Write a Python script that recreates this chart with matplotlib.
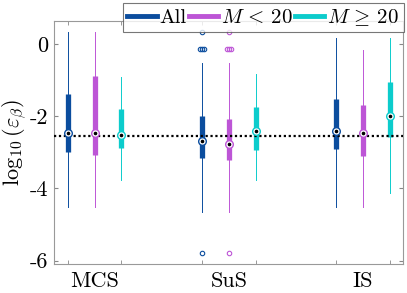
# compact boxplots of log10 error for each method, split by M
import numpy as np
import matplotlib
matplotlib.use("Agg")
import matplotlib.pyplot as plt

plt.rcParams["font.family"] = "cmr10"
plt.rcParams["mathtext.fontset"] = "cm"
plt.rcParams["axes.unicode_minus"] = False

# data
# ---
methods = ["MCS", "SuS", "IS"]
groups = ["All", r"$M\,<\,20$", r"$M\,\geq\,20$"]
colors = ["#0b4d9e", "#bd55d6", "#0ccccc"]

# per method, per group: [whisker low, q1, median, q3, whisker high]
stats_mcs = [[-4.51, -2.99, -2.46, -1.39, 0.33],
             [-4.51, -3.08, -2.46, -0.88, 0.33],
             [-3.77, -2.88, -2.52, -1.81, -0.91]]
stats_sus = [[-4.65, -3.17, -2.69, -1.99, -0.52],
             [-4.65, -3.22, -2.76, -2.08, -0.52],
             [-3.77, -2.94, -2.40, -1.74, -0.84]]
stats_is = [[-4.51, -2.91, -2.40, -1.54, 0.15],
            [-4.51, -3.10, -2.48, -1.70, -0.16],
            [-4.14, -2.57, -2.01, -1.06, 0.15]]
stats = [stats_mcs, stats_sus, stats_is]

# outliers (only SuS, All and M<20), with the small horizontal jitter seen
outlier_vals = [0.33, -0.155, -0.155, -0.155, -5.80]
outlier_jit = [0.0, -0.08, 0.0, 0.08, 0.0]
outliers = {(1, 0): outlier_vals, (1, 1): outlier_vals}

ref_line = -2.54

# plot
# ---
fig = plt.figure(figsize=(4.07, 2.93), dpi=100)
ax = fig.add_axes([54.3 / 407, 1 - 264.3 / 293, (403.3 - 54.3) / 407, (264.3 - 21) / 293])

positions = []
for i, st in enumerate(stats):
    for j, s in enumerate(st):
        x = 1 + 5 * i + j
        positions.append(x)
        lo, q1, med, q3, hi = s
        c = colors[j]
        ax.plot([x, x], [lo, hi], color=c, lw=0.7, zorder=2)
        ax.plot([x, x], [q1, q3], color=c, lw=3.8, solid_capstyle="butt", zorder=3)
        ax.plot(x, med, "o", ms=5.5, mfc="white", mec=c, mew=1.0, zorder=4)
        ax.plot(x, med, "o", ms=1.6, color="black", zorder=5)
        if (i, j) in outliers:
            xs = [x + d for d in outlier_jit]
            ax.plot(xs, outliers[(i, j)], "o", ms=3.2, mfc="none", mec=c, mew=0.8,
                    zorder=3, clip_on=False)

ax.axhline(ref_line, color="black", ls=(0, (1, 1.2)), lw=1.6, zorder=3.5)

ax.set_xlim(0.5, 13.5)
ax.set_ylim(-6.1, 0.63)
ax.set_xticks(positions, minor=True)
ax.set_xticks([2, 7, 12])
ax.set_xticklabels(methods, fontsize=16)
ax.set_yticks([-6, -4, -2, 0])
ax.set_yticklabels(["-6", "-4", "-2", "0"], fontsize=16)
ax.tick_params(which="major", axis="x", length=0, pad=5)
ax.tick_params(which="minor", axis="x", direction="in", length=3, top=True, color="#888888")
ax.tick_params(axis="y", direction="in", length=3, right=True, color="#888888", pad=4)
for sp in ax.spines.values():
    sp.set_color("#999999")
    sp.set_linewidth(0.8)
ax.set_ylabel(r"$\log_{10}(\varepsilon_\beta)$", fontsize=16, labelpad=1)

handles = [plt.Line2D([], [], color=c, lw=3.5) for c in colors]
leg = fig.legend(handles, groups, ncol=3, loc="upper right",
                 bbox_to_anchor=(403.5 / 407, 1 - 3 / 293), fontsize=15,
                 frameon=True, fancybox=False, edgecolor="#555555",
                 handlelength=1.4, handletextpad=0.15, columnspacing=0.1,
                 borderpad=0.2, borderaxespad=0)
leg.get_frame().set_linewidth(0.8)

fig.savefig("out.png", dpi=100)
